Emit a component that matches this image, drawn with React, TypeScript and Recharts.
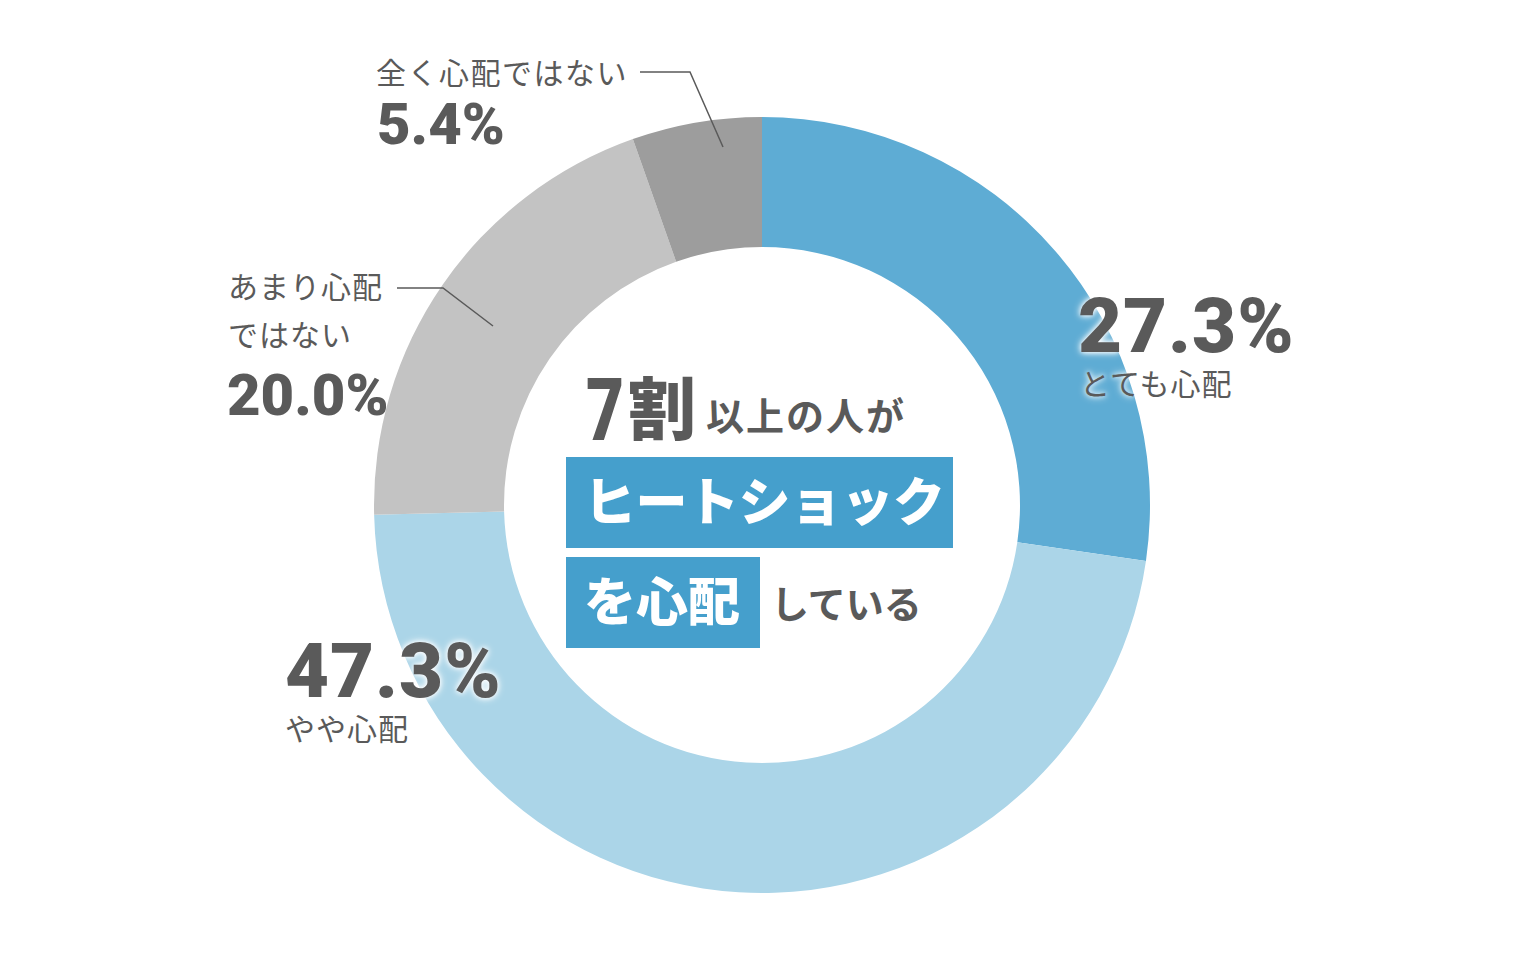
import { Cell, Pie, PieChart } from "recharts";

const names = ["とても心配", "やや心配", "あまり心配ではない", "全く心配ではない"];
const shares = [27.3, 47.3, 20.0, 5.4];
const colors = ["#5eacd4", "#abd5e8", "#c3c3c3", "#9d9d9d"];

const ink = "#5a5a5a";
const jp = '"Noto Sans CJK JP", "Noto Sans", sans-serif';
const num = 'Roboto, "Liberation Sans", sans-serif';
const glow = { textShadow: "0 0 5px #fff, 0 0 8px #fff" };

const data = names.map((name, i) => ({ name, value: shares[i] }));

function SliceLabel(props: any) {
  const { cx, cy, index } = props;
  const pct = `${shares[index].toFixed(1)}%`;
  if (index === 0) {
    return (
      <g>
        <text x={cx + 316} y={cy - 153} fill={ink} fontFamily={num} fontWeight={900} fontSize={76} letterSpacing={1} style={glow}>{pct}</text>
        <text x={cx + 318} y={cy - 110} fill={ink} fontFamily={jp} fontSize={30} letterSpacing={1} style={glow}>{names[0]}</text>
      </g>
    );
  }
  if (index === 1) {
    return (
      <g>
        <text x={cx - 477} y={cy + 192} fill={ink} fontFamily={num} fontWeight={900} fontSize={76} letterSpacing={1} style={glow}>{pct}</text>
        <text x={cx - 477} y={cy + 235} fill={ink} fontFamily={jp} fontSize={30} letterSpacing={1}>{names[1]}</text>
      </g>
    );
  }
  if (index === 2) {
    return (
      <g>
        <text x={cx - 534} y={cy - 207} fill={ink} fontFamily={jp} fontSize={30} letterSpacing={1}>あまり心配</text>
        <text x={cx - 534} y={cy - 159} fill={ink} fontFamily={jp} fontSize={30} letterSpacing={1}>ではない</text>
        <text x={cx - 535} y={cy - 90} fill={ink} fontFamily={num} fontWeight={900} fontSize={58}>{pct}</text>
        <polyline points={`${cx - 365},${cy - 217} ${cx - 319},${cy - 217} ${cx - 269},${cy - 179}`} fill="none" stroke={ink} strokeWidth={1.5} />
      </g>
    );
  }
  return (
    <g>
      <text x={cx - 386} y={cy - 421} fill={ink} fontFamily={jp} fontSize={30} letterSpacing={1.5}>{names[3]}</text>
      <text x={cx - 385} y={cy - 361} fill={ink} fontFamily={num} fontWeight={900} fontSize={58}>{pct}</text>
      <polyline points={`${cx - 122},${cy - 433} ${cx - 72},${cy - 433} ${cx - 39},${cy - 358}`} fill="none" stroke={ink} strokeWidth={1.5} />
    </g>
  );
}

export default function App() {
  return (
    <div style={{ position: "absolute", left: 0, top: 0, width: 1520, height: 954, background: "#fff" }}>
      <PieChart width={1520} height={954} margin={{ top: 0, right: 0, bottom: 0, left: 0 }}>
        <Pie
          data={data}
          dataKey="value"
          cx={762}
          cy={505}
          innerRadius={258}
          outerRadius={388}
          startAngle={90}
          endAngle={-270}
          stroke="none"
          label={SliceLabel}
          labelLine={false}
          isAnimationActive={false}
        >
          {data.map((d, i) => (
            <Cell key={d.name} fill={colors[i]} />
          ))}
        </Pie>
      </PieChart>
      <svg width={1520} height={954} style={{ position: "absolute", left: 0, top: 0, pointerEvents: "none" }}>
        <text x={586} y={440} fill={ink} fontFamily={num} fontWeight={900} fontSize={88} textLength={38} lengthAdjust="spacingAndGlyphs">7</text>
        <text x={628} y={434} fill={ink} fontFamily={jp} fontWeight={900} fontSize={68}>割</text>
        <text x={706} y={430} fill={ink} fontFamily={jp} fontWeight={700} fontSize={38} letterSpacing={2}>以上の人が</text>
        <rect x={566} y={457} width={387} height={91} fill="#459fcc" />
        <text x={584} y={521} fill="#fff" fontFamily={jp} fontWeight={900} fontSize={52} letterSpacing={-0.5}>ヒートショック</text>
        <rect x={566} y={557} width={194} height={91} fill="#459fcc" />
        <text x={584} y={621} fill="#fff" fontFamily={jp} fontWeight={900} fontSize={52}>を心配</text>
        <text x={771} y={618} fill={ink} fontFamily={jp} fontWeight={700} fontSize={38}>している</text>
      </svg>
    </div>
  );
}
